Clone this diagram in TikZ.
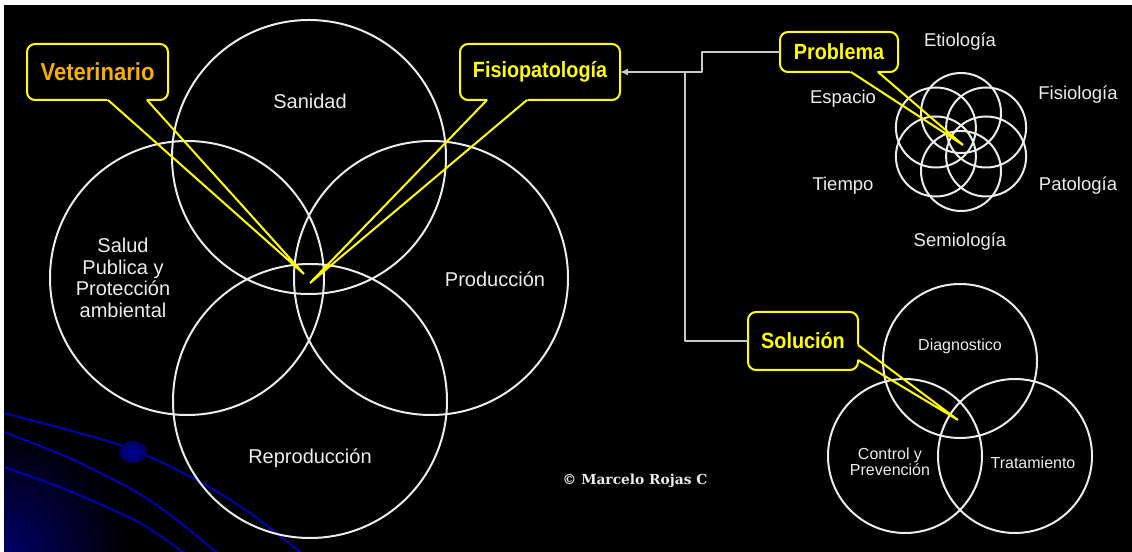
\documentclass[tikz,border=0pt]{standalone}
\usepackage{fontspec}
\setmainfont{Liberation Sans}
\newfontfamily\calloutfont[FakeStretch=0.9]{Liberation Sans}
\newfontfamily\signfont{DejaVu Serif}
\usetikzlibrary{arrows.meta,calc}
\definecolor{calloutyellow}{HTML}{FFFF00}
\definecolor{vetorange}{HTML}{F5B000}
\definecolor{ringwhite}{HTML}{ECECEC}
\definecolor{decoblue}{HTML}{0000B0}
\definecolor{linkgray}{HTML}{C8C8C8}
\begin{document}
\begin{tikzpicture}[>={Latex[length=8bp,width=7bp]},line join=bevel,
  ring/.style={draw=ringwhite,line width=2bp},
  ringtext/.style={text=ringwhite,inner sep=0bp,align=center,font=\fontsize{20bp}{21.5bp}\selectfont},
  petaltext/.style={text=ringwhite,inner sep=0bp,font=\fontsize{18.5bp}{20bp}\selectfont},
  smalltext/.style={text=ringwhite,inner sep=0bp,align=center,font=\fontsize{16bp}{15bp}\selectfont},
  callout/.style={draw=calloutyellow,fill=black,line width=2bp,rounded corners=8bp,inner sep=0bp,outer sep=0bp,
    text=calloutyellow,font=\calloutfont\bfseries\fontsize{22bp}{24bp}\selectfont},
  tail/.style={draw=calloutyellow,line width=2bp},
  conn/.style={draw=linkgray,line width=1.3bp},
  deco/.style={draw=decoblue,line width=2bp}]
%%
\useasboundingbox (0bp,0bp) rectangle (1132bp,552bp);
\fill[white] (0bp,0bp) rectangle (1132bp,552bp);
\fill[black] (4bp,0bp) rectangle (1132bp,547bp);
% corner decoration
\begin{scope}
  \clip (4bp,0bp) rectangle (1132bp,547bp);
  \shade[inner color=decoblue!60!black,outer color=black] (4bp,0bp) circle (125bp);
  \draw[deco] plot[smooth] coordinates {(4bp,139bp) (120bp,107bp) (193bp,74bp) (250bp,39bp) (305bp,-4bp)};
  \draw[deco] plot[smooth] coordinates {(4bp,120bp) (67bp,95bp) (133bp,62bp) (173bp,35bp) (221bp,-4bp)};
  \draw[deco] plot[smooth] coordinates {(4bp,85bp) (67bp,62bp) (140bp,29bp) (188bp,-4bp)};
  \shade[inner color=decoblue!85!black,outer color=decoblue!55!black] (133bp,100bp) ellipse [x radius=14bp,y radius=11bp];
\end{scope}
%
% four areas
\draw[ring] (309bp,395bp) circle [radius=137bp];
\draw[ring] (187bp,274bp) circle [radius=137bp];
\draw[ring] (431bp,274bp) circle [radius=137bp];
\draw[ring] (310bp,151bp) circle [radius=137bp];
\node (lbl_sanidad) at (310bp,451bp) [ringtext] {Sanidad};
\node (lbl_salud) at (123bp,274bp) [ringtext] {Salud\\Publica y\\Protección\\ambiental};
\node (lbl_produccion) at (495bp,273bp) [ringtext] {Producción};
\node (lbl_reproduccion) at (310bp,94bp) [ringtext] {Reproducción};
\node (lbl_sign) at (635bp,71bp) [text=ringwhite,inner sep=0bp,font=\signfont\bfseries\fontsize{13.8bp}{14bp}\selectfont] {\textcopyright{} Marcelo Rojas C};
%
% flower
\coordinate (flower_c) at (961bp,410bp);
\foreach \a in {90,30,-30,-90,-150,150}
  \draw[ring] (flower_c) ++(\a:29bp) circle [radius=40bp];
\node (lbl_etiologia) at (960bp,510bp) [petaltext] {Etiología};
\node (lbl_espacio) at (843bp,453bp) [petaltext] {Espacio};
\node (lbl_fisiologia) at (1078bp,457bp) [petaltext] {Fisiología};
\node (lbl_tiempo) at (843bp,366bp) [petaltext] {Tiempo};
\node (lbl_patologia) at (1078bp,366bp) [petaltext] {Patología};
\node (lbl_semiologia) at (960bp,310bp) [petaltext] {Semiología};
%
% three areas
\draw[ring] (960bp,191bp) circle [radius=77bp];
\draw[ring] (905bp,96bp) circle [radius=77bp];
\draw[ring] (1015bp,96bp) circle [radius=77bp];
\node (lbl_diagnostico) at (960bp,206bp) [smalltext] {Diagnostico};
\node (lbl_control) at (890bp,90bp) [smalltext] {Control y\\Prevención};
\node (lbl_tratamiento) at (1033bp,89bp) [smalltext] {Tratamiento};
%
% callouts
\node (box_vet) at (97.5bp,480bp) [callout,minimum width=141bp,minimum height=56bp,text=vetorange,
  font=\calloutfont\bfseries\fontsize{24.5bp}{26bp}\selectfont] {Veterinario};
\node (box_fisio) at (540bp,480bp) [callout,minimum width=160bp,minimum height=56bp] {Fisiopatología};
\node (box_prob) at (839bp,500bp) [callout,minimum width=118bp,minimum height=40bp] {Problema};
\node (box_sol) at (803bp,211bp) [callout,minimum width=110bp,minimum height=58bp] {Solución};
\coordinate (tip_vet) at (304bp,278bp);
\coordinate (tip_fisio) at (310bp,269bp);
\coordinate (tip_prob) at (963bp,407bp);
\coordinate (tip_sol) at (958bp,132bp);
\coordinate (vet_a) at ([xshift=10.5bp]box_vet.south);
\coordinate (vet_b) at ([xshift=49.5bp]box_vet.south);
\coordinate (fisio_a) at ([xshift=-53bp]box_fisio.south);
\coordinate (fisio_b) at ([xshift=-13bp]box_fisio.south);
\coordinate (prob_a) at ([xshift=12bp]box_prob.south);
\coordinate (prob_b) at ([xshift=39bp]box_prob.south);
\coordinate (sol_a) at ([yshift=-4bp]box_sol.east);
\coordinate (sol_b) at ([yshift=-19bp]box_sol.east);
\fill[black] ($(vet_a)!-4bp!(tip_vet)$) -- ($(vet_a)!5bp!(tip_vet)$) -- ($(vet_b)!5bp!(tip_vet)$) -- ($(vet_b)!-4bp!(tip_vet)$) -- cycle;
\fill[black] ($(fisio_a)!-4bp!(tip_fisio)$) -- ($(fisio_a)!5bp!(tip_fisio)$) -- ($(fisio_b)!5bp!(tip_fisio)$) -- ($(fisio_b)!-4bp!(tip_fisio)$) -- cycle;
\fill[black] ($(prob_a)!-4bp!(tip_prob)$) -- ($(prob_a)!5bp!(tip_prob)$) -- ($(prob_b)!5bp!(tip_prob)$) -- ($(prob_b)!-4bp!(tip_prob)$) -- cycle;
\fill[black] ($(sol_a)!-4bp!(tip_sol)$) -- ($(sol_a)!5bp!(tip_sol)$) -- ($(sol_b)!5bp!(tip_sol)$) -- ($(sol_b)!-4bp!(tip_sol)$) -- cycle;
\draw[tail] (vet_a) -- (tip_vet) -- (vet_b);
\draw[tail] (fisio_a) -- (tip_fisio) -- (fisio_b);
\draw[tail] (prob_a) -- (tip_prob) -- (prob_b);
\draw[tail] (sol_a) -- (tip_sol) -- (sol_b);
%
% links
\coordinate (jog) at (702bp,480bp);
\coordinate (split) at (685bp,480bp);
\draw[conn,->] (box_prob.west) -| (jog) -- (box_fisio.east);
\draw[conn] (split) |- (box_sol.west);
%
\end{tikzpicture}
\end{document}
